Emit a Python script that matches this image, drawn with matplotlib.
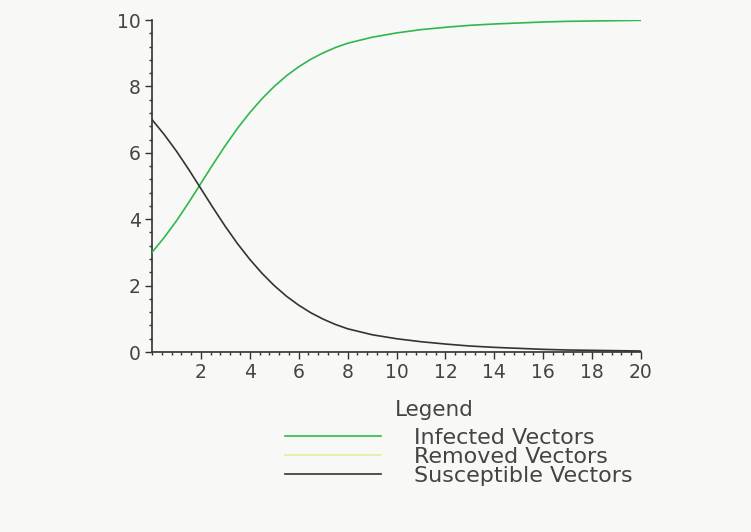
import numpy as np
import matplotlib.pyplot as plt
from matplotlib.lines import Line2D
from matplotlib.ticker import MultipleLocator

# values
t = [0, 0.5, 1, 1.5, 2, 2.5, 3, 3.5, 4, 4.5, 5, 5.5, 6, 6.5, 7, 7.5, 8, 9, 10,
     11, 12, 13, 14, 15, 16, 17, 18, 19, 20]
infected = [3.0, 3.45, 3.95, 4.5, 5.08, 5.66, 6.22, 6.74, 7.21, 7.63, 8.0, 8.32, 8.59,
            8.82, 9.01, 9.17, 9.3, 9.48, 9.61, 9.71, 9.78, 9.84, 9.88, 9.91, 9.94,
            9.96, 9.97, 9.98, 9.99]
susceptible = [7.0, 6.55, 6.05, 5.5, 4.92, 4.34, 3.78, 3.26, 2.79, 2.37, 2.0, 1.68, 1.41,
               1.18, 0.99, 0.83, 0.7, 0.52, 0.4, 0.31, 0.24, 0.18, 0.14, 0.11, 0.08,
               0.06, 0.05, 0.04, 0.03]
removed = [0.0] * len(t)

labels = ["Infected Vectors", "Removed Vectors", "Susceptible Vectors"]
colors = ["#2eb84e", "#e4eea0", "#333333"]

bg = "#f8f8f6"
txt = "#444444"

fig = plt.figure(figsize=(7.51, 5.32), dpi=100, facecolor=bg)
ax = fig.add_axes([152 / 751, 1 - 352 / 532, 489 / 751, 332 / 532], facecolor=bg)

ax.plot(t, removed, color=colors[1], lw=1.2, zorder=1)
ax.plot(t, infected, color=colors[0], lw=1.2, zorder=3)
ax.plot(t, susceptible, color=colors[2], lw=1.2, zorder=3)

ax.set_xlim(0, 20)
ax.set_ylim(0, 10)
ax.spines["top"].set_visible(False)
ax.spines["right"].set_visible(False)
for s in ["left", "bottom"]:
    ax.spines[s].set_color("#333333")
    ax.spines[s].set_linewidth(1.2)

ax.set_xticks([2, 4, 6, 8, 10, 12, 14, 16, 18, 20])
ax.set_yticks([0, 2, 4, 6, 8, 10])
ax.xaxis.set_minor_locator(MultipleLocator(0.4))
ax.yaxis.set_minor_locator(MultipleLocator(0.4))
ax.tick_params(which="major", direction="out", length=5, width=1, color="#333333",
               labelsize=13.5, labelcolor=txt, pad=3)
ax.tick_params(which="minor", direction="out", length=2.5, width=1, color="#333333")

# legend below the plot
fig.text(395 / 751, 1 - 410 / 532, "Legend", fontsize=15.5, color=txt,
         ha="left", va="center")
handles = [Line2D([], [], color=c, lw=1.2) for c in colors]
fig.legend(handles, labels, loc="upper left", bbox_to_anchor=(285 / 751, 1 - 428 / 532),
           frameon=False, fontsize=16, labelcolor=txt, handlelength=4.3,
           handletextpad=1.5, labelspacing=-0.05, borderpad=0, borderaxespad=0)

fig.savefig("out.png", dpi=100, facecolor=bg)
